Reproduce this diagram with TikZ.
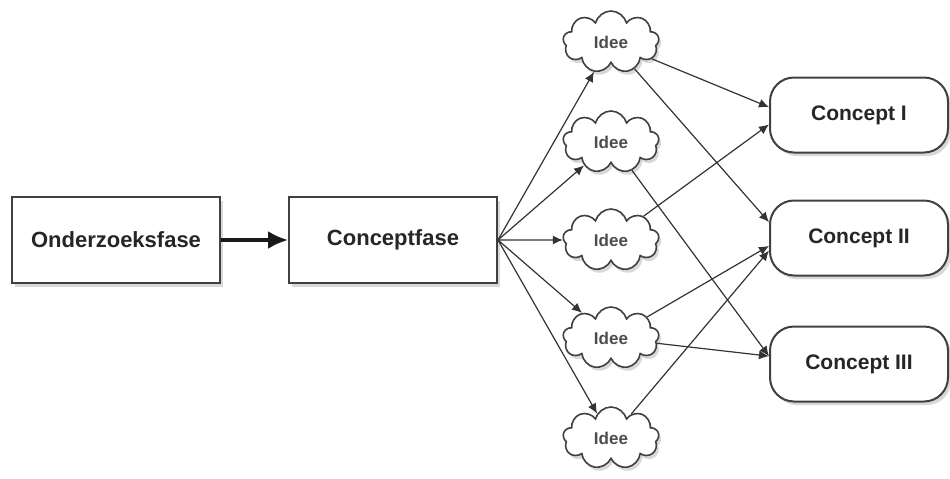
\documentclass[tikz,border=0pt]{standalone}
\usepackage{fontspec}
\setmainfont{Liberation Sans}
\usetikzlibrary{arrows.meta, positioning, shapes.symbols, shadows}

\begin{document}
\begin{tikzpicture}[
    x=0.5pt, y=-0.5pt,
    node distance=33.5pt,
    fase/.style={rectangle, draw=black!75, line width=1pt, fill=white,
                 minimum width=104pt, minimum height=43pt,
                 text=black!85, font=\fontsize{11}{13}\selectfont\bfseries,
                 drop shadow={shadow xshift=1.5pt, shadow yshift=-1.8pt, fill=black!30}},
    idee/.style={cloud, cloud puffs=9, cloud ignores aspect, draw=black!75,
                 line width=0.8pt, fill=white, minimum width=48pt, minimum height=31pt,
                 text=black!70, font=\fontsize{8.5}{10}\selectfont\bfseries,
                 drop shadow={shadow xshift=1.2pt, shadow yshift=-1.8pt, fill=black!30}},
    concept/.style={rectangle, rounded corners=12pt, draw=black!75, line width=1pt,
                 fill=white, minimum width=89pt, minimum height=37.5pt,
                 text=black!85, font=\fontsize{10.5}{12}\selectfont\bfseries,
                 drop shadow={shadow xshift=1.5pt, shadow yshift=-1.8pt, fill=black!30}},
    link/.style={-{Latex[length=5pt, width=4.5pt]}, line width=0.6pt, draw=black!80},
    bigarrow/.style={-{Latex[length=10pt, width=9pt]}, line width=1.6pt, draw=black!90},
]
    \useasboundingbox (0,0) rectangle (950,478);

    \node[fase] (onderzoek) at (116,240) {Onderzoeksfase};
    \node[fase, right=of onderzoek] (conceptfase) {Conceptfase};

    % ideeen
    \foreach \y [count=\i] in {42,142,240,338,438}
        \node[idee] (idee\i) at (611,\y) {Idee};

    \node[concept] (concept1) at (859,115) {Concept I};
    \node[concept] (concept2) at (859,238) {Concept II};
    \node[concept] (concept3) at (859,364) {Concept III};

    \draw[bigarrow] (onderzoek) -- (conceptfase);
    \foreach \i in {1,...,5}
        \draw[link] (conceptfase.east) -- (idee\i);

    \draw[link] (idee1) -- (concept1.175);
    \draw[link] (idee1) -- (concept2.170);
    \draw[link] (idee2) -- (concept3.175);
    \draw[link] (idee3) -- (concept1.186);
    \draw[link] (idee4) -- (concept2.185);
    \draw[link] (idee4) -- (concept3.175);
    \draw[link] (idee5) -- (concept2.188);
\end{tikzpicture}
\end{document}
